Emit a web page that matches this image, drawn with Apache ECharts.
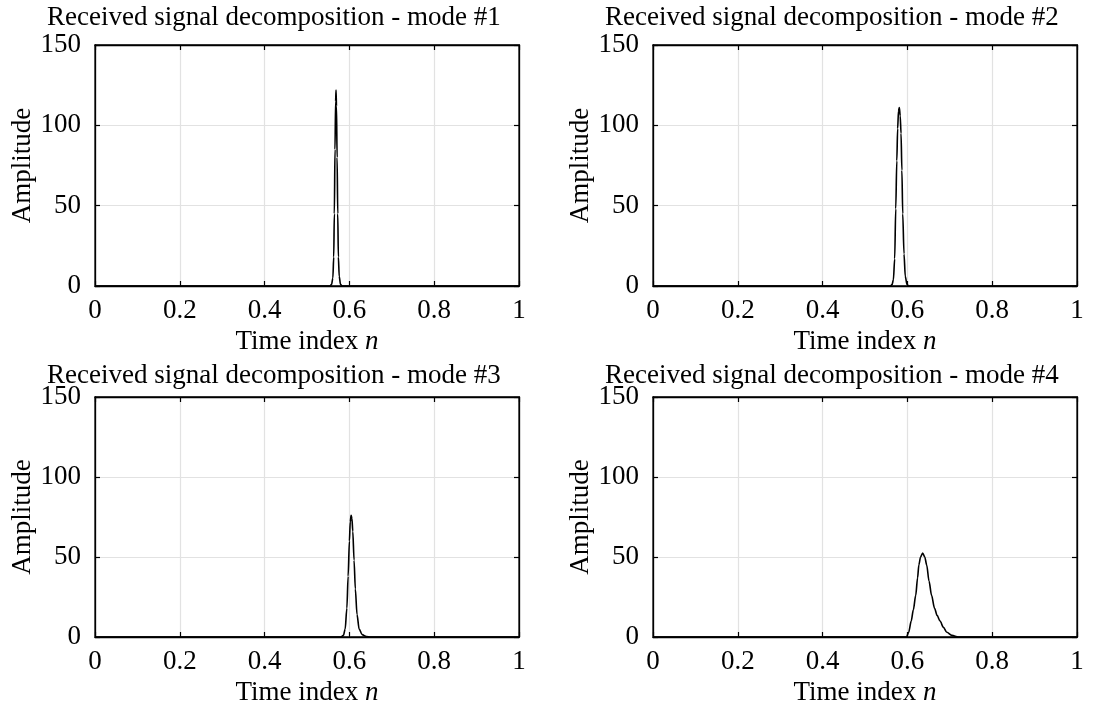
<!DOCTYPE html>
<html>
<head>
<meta charset="utf-8">
<script src="https://cdn.jsdelivr.net/npm/echarts@6/dist/echarts.min.js"></script>
<style>html,body{margin:0;padding:0;background:#fff}#c{width:1115px;height:711px}</style>
</head>
<body>
<div id="c"></div>
<script>
// ---- data ----
const titles = [
  'Received signal decomposition - mode #1',
  'Received signal decomposition - mode #2',
  'Received signal decomposition - mode #3',
  'Received signal decomposition - mode #4'
];
const xTicks = [0, 0.2, 0.4, 0.6, 0.8, 1];
const yTicks = [0, 50, 100, 150];

const m1X = [0, 0.554, 0.558, 0.561, 0.563, 0.5645, 0.566, 0.5675, 0.5685, 0.5695, 0.571, 0.5725, 0.574, 0.576, 0.579, 0.583, 1];
const m1Y = [0, 0, 1, 5, 18, 45, 85, 115, 122, 112, 80, 45, 18, 6, 1, 0, 0];

const m2X = [0, 0.560, 0.564, 0.567, 0.570, 0.5725, 0.575, 0.577, 0.579, 0.581, 0.583, 0.585, 0.587, 0.589, 0.592, 0.595, 0.599, 0.603, 1];
const m2Y = [0, 0, 1, 4, 17, 48, 78, 98, 109, 111, 106, 95, 72, 45, 20, 6, 1, 0, 0];

const m3X = [0, 0.580, 0.586, 0.590, 0.594, 0.597, 0.600, 0.602, 0.604, 0.606, 0.608, 0.611, 0.614, 0.618, 0.623, 0.630, 0.640, 0.650, 1];
const m3Y = [0, 0, 1, 5, 18, 38, 60, 72, 76, 74, 66, 48, 30, 14, 5, 1.5, 0.3, 0, 0];

const m4X = [0, 0.598, 0.603, 0.609, 0.614, 0.6196, 0.624, 0.627, 0.631, 0.636, 0.641, 0.6455, 0.651, 0.657, 0.664, 0.670, 0.677, 0.685, 0.693, 0.705, 0.72, 1];
const m4Y = [0, 0, 3, 10, 17, 26, 37, 45, 50, 52.5, 50, 45, 35, 26, 18, 13.5, 10, 6, 3, 1, 0, 0];

const modesX = [m1X, m2X, m3X, m4X];
const modesY = [m1Y, m2Y, m3Y, m4Y];

// ---- layout ----
const FONT = '"Liberation Serif", "Times New Roman", serif';
const FS = 27;
const grids = [
  {left: 95, top: 45, width: 424, height: 241},
  {left: 653, top: 45, width: 424, height: 241},
  {left: 95, top: 397, width: 424, height: 240},
  {left: 653, top: 397, width: 424, height: 240}
];
const titlePos = [
  {left: 47, top: 4}, {left: 605, top: 4}, {left: 47, top: 362}, {left: 605, top: 362}
];

const option = {
  backgroundColor: '#fff',
  animation: false,
  title: titles.map((t, i) => ({
    text: t, left: titlePos[i].left, top: titlePos[i].top, padding: 0,
    textStyle: {fontFamily: FONT, fontSize: FS, fontWeight: 'normal', color: '#000'}
  })),
  grid: grids.map(g => Object.assign({show: true, borderColor: '#000', borderWidth: 1.3, backgroundColor: 'transparent'}, g)),
  xAxis: [],
  yAxis: [],
  series: []
};

grids.forEach((g, i) => {
  option.xAxis.push({
    type: 'value', gridIndex: i, min: xTicks[0], max: xTicks[xTicks.length - 1], interval: 0.2,
    position: 'bottom',
    axisLine: {show: true, onZero: false, lineStyle: {color: '#000', width: 1.3}},
    axisTick: {show: true, inside: true, length: 5, lineStyle: {color: '#000', width: 1.2}},
    axisLabel: {show: true, margin: 11, fontFamily: FONT, fontSize: FS, color: '#000',
      formatter: v => String(+v.toFixed(1))},
    splitLine: {show: true, lineStyle: {color: '#e2e2e2', width: 1.2}},
    name: '{a|Time index }{b|n}', nameLocation: 'middle', nameGap: 42,
    nameTextStyle: {rich: {
      a: {fontFamily: FONT, fontSize: FS, color: '#000'},
      b: {fontFamily: FONT, fontSize: FS, color: '#000', fontStyle: 'italic'}
    }}
  });
  option.xAxis.push({
    type: 'value', gridIndex: i, min: 0, max: 1, interval: 0.2, position: 'top',
    axisLine: {show: true, onZero: false, lineStyle: {color: '#000', width: 1.3}},
    axisTick: {show: true, inside: true, length: 5, lineStyle: {color: '#000', width: 1.2}},
    axisLabel: {show: false}, splitLine: {show: false}
  });
  option.yAxis.push({
    type: 'value', gridIndex: i, min: yTicks[0], max: yTicks[yTicks.length - 1], interval: 50,
    position: 'left',
    axisLine: {show: true, onZero: false, lineStyle: {color: '#000', width: 1.3}},
    axisTick: {show: true, inside: true, length: 5, lineStyle: {color: '#000', width: 1.2}},
    axisLabel: {show: true, margin: 14, fontFamily: FONT, fontSize: FS, color: '#000'},
    splitLine: {show: true, lineStyle: {color: '#e2e2e2', width: 1.2}},
    name: 'Amplitude', nameLocation: 'middle', nameGap: 58,
    nameTextStyle: {fontFamily: FONT, fontSize: FS, color: '#000'}
  });
  option.yAxis.push({
    type: 'value', gridIndex: i, min: 0, max: 150, interval: 50, position: 'right',
    axisLine: {show: true, onZero: false, lineStyle: {color: '#000', width: 1.3}},
    axisTick: {show: true, inside: true, length: 5, lineStyle: {color: '#000', width: 1.2}},
    axisLabel: {show: false}, splitLine: {show: false}
  });
  option.series.push({
    type: 'line', xAxisIndex: 2 * i, yAxisIndex: 2 * i,
    data: modesX[i].map((x, k) => [x, modesY[i][k]]),
    showSymbol: false, symbol: 'none', smooth: 0.3, smoothMonotone: 'x',
    lineStyle: {color: '#000', width: 1.6}, z: 5
  });
});

const chart = echarts.init(document.getElementById('c'), null, {renderer: 'canvas'});
chart.setOption(option);
</script>
</body>
</html>
